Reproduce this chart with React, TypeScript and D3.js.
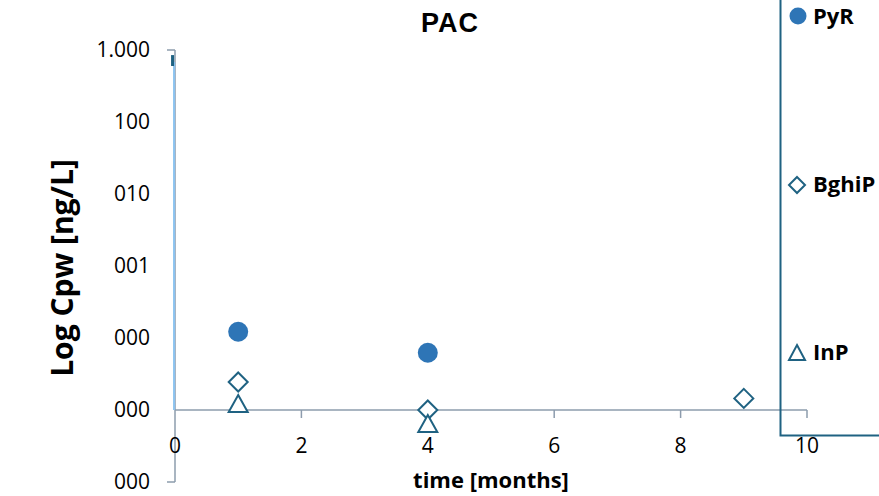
import React from "react";
import * as d3 from "d3";

const title = "PAC";
const xTicks = [0, 2, 4, 6, 8, 10];
const yTickValues = [1000, 100, 10, 1, 0.1, 0.01, 0.001];
const yTickLabels = ["1.000", "100", "010", "001", "000", "000", "000"];

const pyrX = [1, 4];
const pyrY = [0.122, 0.0625];
const bghipX = [1, 4, 9];
const bghipY = [0.0245, 0.01, 0.0145];
const inpX = [1, 4];
const inpY = [0.0123, 0.0065];

// stray vertical mark near x=0 (light line and dark cap)
const strayX = [-0.015];
const strayLine = [680, 0.01];
const strayCap = [850, 600];

const legendNames = ["PyR", "BghiP", "InP"];

const W = 879;
const H = 496;
const gray = "#8d9cad";
const dark = "#1f6282";
const blue = "#2e75b6";

export default function App() {
  const x = d3.scaleLinear().domain([0, 10]).range([175, 807]);
  const y = d3.scaleLog().domain([0.001, 1000]).range([482, 50]);
  const y0 = y(0.01);

  const diamond = (cx: number, cy: number, r: number) =>
    `M${cx},${cy - r}L${cx + r},${cy}L${cx},${cy + r}L${cx - r},${cy}Z`;
  const triangle = (cx: number, cy: number, w: number, h: number) =>
    `M${cx},${cy - h / 2}L${cx + w / 2},${cy + h / 2}L${cx - w / 2},${cy + h / 2}Z`;

  const legendY = d3.scalePoint().domain(legendNames).range([16, 352]);
  const lx = 797;

  return (
    <svg
      width={W}
      height={H}
      style={{ position: "absolute", left: 0, top: 0, background: "#fff" }}
    >
      <rect x={0} y={0} width={W} height={H} fill="#fff" />
      {/* title */}
      <text
        x={450}
        y={32}
        textAnchor="middle"
        fontFamily="Liberation Sans, Arial, sans-serif"
        fontWeight="bold"
        fontSize={27}
        letterSpacing={1}
        fill="#000"
      >
        {title}
      </text>

      {/* y axis */}
      <line x1={x(0)} x2={x(0)} y1={y(1000)} y2={y(0.001)} stroke={gray} strokeWidth={1.5} />
      {[1000, 0.001].map((v, i) => (
        <line key={i} x1={x(0) - 8} x2={x(0)} y1={y(v)} y2={y(v)} stroke={gray} strokeWidth={1.5} />
      ))}
      {yTickValues.map((v, i) => (
        <text
          key={i}
          x={150}
          y={y(v)}
          dy="0.35em"
          textAnchor="end"
          fontFamily="Open Sans, sans-serif"
          fontSize={21}
          fill="#000"
        >
          {yTickLabels[i]}
        </text>
      ))}

      {/* stray mark */}
      <line
        x1={x(strayX[0])}
        x2={x(strayX[0])}
        y1={y(strayLine[0])}
        y2={y(strayLine[1])}
        stroke="#8cc3f0"
        strokeWidth={2}
      />
      <line
        x1={x(strayX[0]) - 1.5}
        x2={x(strayX[0]) - 1.5}
        y1={y(strayCap[0])}
        y2={y(strayCap[1])}
        stroke={dark}
        strokeWidth={3}
      />

      {/* x axis */}
      <line x1={x(0)} x2={x(10)} y1={y0} y2={y0} stroke={gray} strokeWidth={1.5} />
      {xTicks.filter((t) => t > 0).map((t) => (
        <line key={t} x1={x(t)} x2={x(t)} y1={y0} y2={y0 + 8} stroke={gray} strokeWidth={1.5} />
      ))}
      {xTicks.map((t) => (
        <text
          key={t}
          x={x(t)}
          y={453}
          textAnchor="middle"
          fontFamily="Open Sans, sans-serif"
          fontSize={21}
          fill="#000"
        >
          {t}
        </text>
      ))}

      {/* axis titles */}
      <text
        x={491}
        y={488}
        textAnchor="middle"
        fontFamily="Open Sans, sans-serif"
        fontWeight="bold"
        fontSize={22}
        fill="#000"
      >
        time [months]
      </text>
      <text
        transform={`translate(62,268) rotate(-90)`}
        textAnchor="middle"
        dy="0.35em"
        fontFamily="Open Sans, sans-serif"
        fontWeight="bold"
        fontSize={30}
        fill="#000"
      >
        Log Cpw [ng/L]
      </text>

      {/* data */}
      {pyrX.map((v, i) => (
        <circle key={i} cx={x(v)} cy={y(pyrY[i])} r={10} fill={blue} />
      ))}
      {bghipX.map((v, i) => (
        <path key={i} d={diamond(x(v), y(bghipY[i]), 9.5)} fill="#fff" stroke={dark} strokeWidth={2} />
      ))}
      {inpX.map((v, i) => (
        <path key={i} d={triangle(x(v), y(inpY[i]), 19, 17)} fill="#fff" stroke={dark} strokeWidth={2} />
      ))}

      {/* legend box */}
      <path d={`M780.5,-2V435.5H${W + 2}`} fill="none" stroke={dark} strokeWidth={2} />
      {legendNames.map((n, i) => {
        const cy = legendY(n) as number;
        return (
          <g key={n}>
            {i === 0 && <circle cx={lx + 1} cy={cy} r={8.5} fill={blue} />}
            {i === 1 && <path d={diamond(lx, cy + 1, 8)} fill="#fff" stroke={dark} strokeWidth={2} />}
            {i === 2 && <path d={triangle(lx, cy + 0.5, 16, 15)} fill="#fff" stroke={dark} strokeWidth={2} />}
            <text
              x={813}
              y={cy + 8}
              fontFamily="Open Sans, sans-serif"
              fontWeight="bold"
              fontSize={22}
              fill="#000"
            >
              {n}
            </text>
          </g>
        );
      })}
    </svg>
  );
}
